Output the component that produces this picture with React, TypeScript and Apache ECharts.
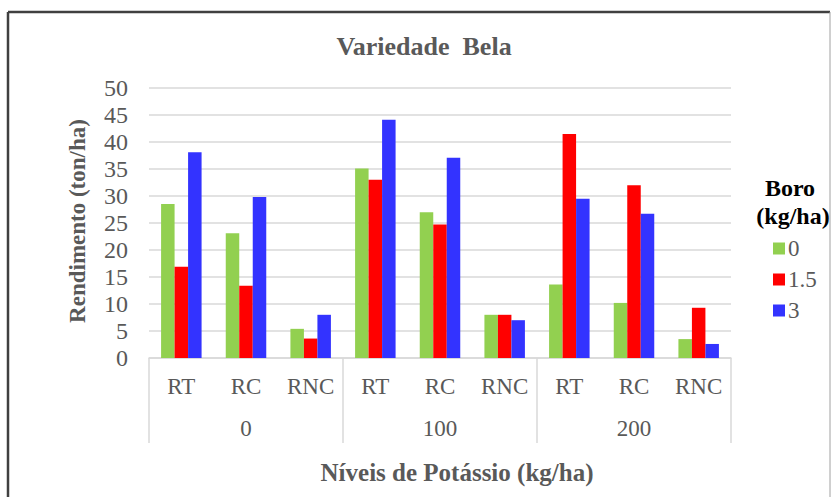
import React, { useEffect, useRef } from "react";
import * as echarts from "echarts";

const subCategories = ["RT", "RC", "RNC", "RT", "RC", "RNC", "RT", "RC", "RNC"];
const groupCategories = ["0", "100", "200"];
const seriesNames = ["0", "1.5", "3"];
const boro0 = [28.5, 23.1, 5.4, 35.1, 27.0, 8.0, 13.6, 10.2, 3.5];
const boro15 = [16.9, 13.4, 3.6, 33.0, 24.7, 8.0, 41.5, 32.0, 9.3];
const boro3 = [38.1, 29.8, 8.0, 44.1, 37.1, 7.0, 29.5, 26.7, 2.6];
const yTicks = { min: 0, max: 50, interval: 5 };

const FONT = "Liberation Serif, Times New Roman, serif";
const TXT = "#595959";
const GRID = "#d9d9d9";

export default function App() {
  const ref = useRef<HTMLDivElement>(null);
  useEffect(() => {
    if (!ref.current) return;
    const chart = echarts.init(ref.current, undefined, { renderer: "svg" });
    const colors = ["#92d050", "#ff0000", "#3333ff"];
    const values = [boro0, boro15, boro3];
    chart.setOption({
      animation: false,
      backgroundColor: "#ffffff",
      textStyle: { fontFamily: FONT },
      grid: { left: 149, right: 106, top: 88, bottom: 139 },
      xAxis: [
        {
          type: "category",
          data: subCategories,
          axisLine: { show: true, lineStyle: { color: GRID, width: 1.5 } },
          axisTick: { show: false },
          axisLabel: { color: TXT, fontSize: 23, fontFamily: FONT, margin: 17, interval: 0 },
        },
        {
          type: "category",
          data: groupCategories,
          position: "bottom",
          axisLine: { show: false },
          axisTick: { show: true, length: 85, lineStyle: { color: GRID, width: 1.5 } },
          axisLabel: { color: TXT, fontSize: 23, fontFamily: FONT, margin: 59, interval: 0 },
          splitLine: { show: false },
        },
      ],
      yAxis: {
        type: "value",
        min: yTicks.min,
        max: yTicks.max,
        interval: yTicks.interval,
        axisLine: { show: false },
        axisTick: { show: false },
        splitLine: { lineStyle: { color: GRID, width: 1.5 } },
        axisLabel: { color: TXT, fontSize: 24, fontFamily: FONT, margin: 21 },
      },
      legend: {
        orient: "vertical",
        left: 768,
        top: 232,
        icon: "rect",
        itemWidth: 12,
        itemHeight: 12,
        itemGap: 8,
        textStyle: { color: TXT, fontSize: 23, fontFamily: FONT, padding: [0, 0, 0, -2] },
        data: seriesNames,
      },
      graphic: [
        { type: "line", shape: { x1: 8, y1: 12, x2: 830, y2: 12 }, style: { stroke: "#404040", lineWidth: 2.5 } },
        { type: "line", shape: { x1: 8, y1: 12, x2: 8, y2: 497 }, style: { stroke: "#404040", lineWidth: 2.5 } },
        { type: "line", shape: { x1: 830, y1: 12, x2: 830, y2: 497 }, style: { stroke: "#a0a0a0", lineWidth: 1 } },
        {
          type: "text", x: 424, y: 46,
          style: { text: "Variedade  Bela", fill: TXT, fontWeight: "bold", fontSize: 26, fontFamily: FONT, align: "center", verticalAlign: "middle" },
        },
        {
          type: "text", x: 77, y: 221, rotation: Math.PI / 2,
          style: { text: "Rendimento (ton/ha)", fill: TXT, fontWeight: "bold", fontSize: 23, fontFamily: FONT, align: "center", verticalAlign: "middle" },
        },
        {
          type: "text", x: 457, y: 472,
          style: { text: "Níveis de Potássio (kg/ha)", fill: TXT, fontWeight: "bold", fontSize: 25, fontFamily: FONT, align: "center", verticalAlign: "middle" },
        },
        {
          type: "text", x: 790, y: 188,
          style: { text: "Boro", fill: "#000000", fontWeight: "bold", fontSize: 24, fontFamily: FONT, align: "center", verticalAlign: "middle" },
        },
        {
          type: "text", x: 793, y: 216,
          style: { text: "(kg/ha)", fill: "#000000", fontWeight: "bold", fontSize: 24, fontFamily: FONT, align: "center", verticalAlign: "middle" },
        },
      ],
      series: seriesNames.map((name, i) => ({
        name,
        type: "bar",
        xAxisIndex: 0,
        data: values[i],
        barWidth: 13.5,
        barGap: "0%",
        itemStyle: { color: colors[i] },
      })),
    });
    return () => chart.dispose();
  }, []);
  return (
    <div
      ref={ref}
      style={{ position: "fixed", left: 0, top: 0, width: 837, height: 497 }}
    />
  );
}
